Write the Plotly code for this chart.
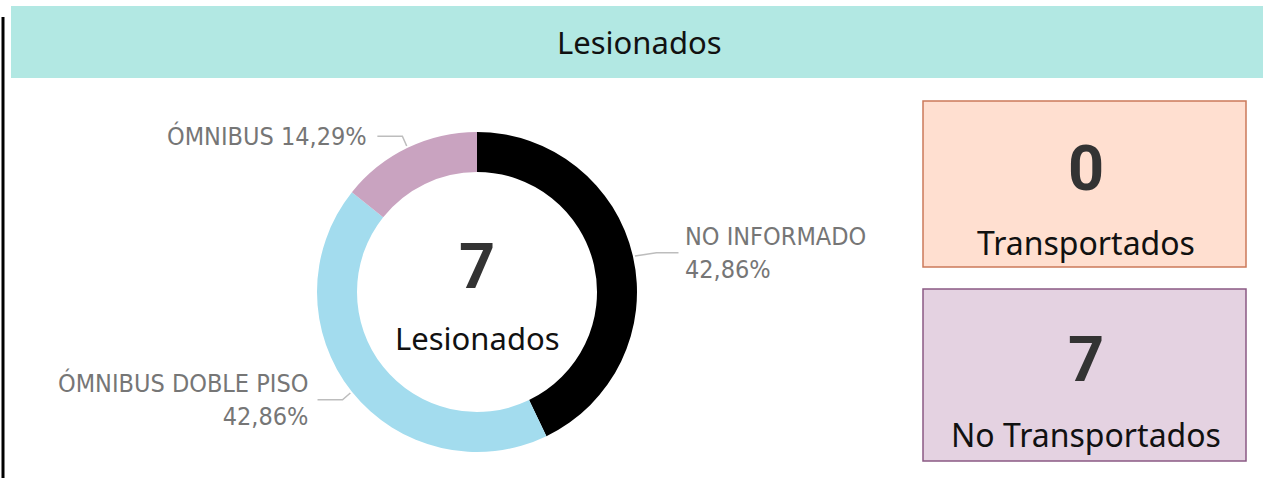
import math
import plotly.graph_objects as go

W, H = 1263, 494

# Data
categories = ["NO INFORMADO", "ÓMNIBUS DOBLE PISO", "ÓMNIBUS"]
injured = [3, 3, 1]
slice_colors = ["#000000", "#A3DCEE", "#C9A3C0"]
card_labels = ["Transportados", "No Transportados"]
card_values = [0, 7]
title_text = "Lesionados"

total = sum(injured)


def px(x):
    return x / W


def py(y):
    return 1 - y / H


# Donut geometry (pixels)
cx, cy, R = 477, 292, 160
LABEL_FONT = "DejaVu Sans Condensed, Roboto, sans-serif"
NUM_FONT = "Roboto, DejaVu Sans Condensed, sans-serif"
UI_FONT = "Segoe UI, Noto Sans, Open Sans, sans-serif"


def text_at(x, y, text, font, xanchor="center", align="center"):
    return dict(
        x=px(x), y=py(y), xref="paper", yref="paper",
        xanchor=xanchor, yanchor="middle", align=align,
        text=text, showarrow=False, font=font,
    )


fig = go.Figure()
fig.add_trace(go.Pie(
    labels=categories,
    values=injured,
    marker=dict(colors=slice_colors, line=dict(width=0)),
    hole=0.75,
    sort=False,
    direction="clockwise",
    rotation=0,
    textinfo="none",
    hoverinfo="label+value+percent",
    showlegend=False,
    domain=dict(x=[px(cx - R), px(cx + R)], y=[py(cy + R), py(cy - R)]),
))

shapes = []
annotations = []

# Outside labels with elbow leader lines, placed from each slice's mid-angle
label_font = dict(family=LABEL_FONT, size=25, color="#767676")
cum = 0
for name, v in zip(categories, injured):
    mid = (cum + v / 2) / total * 2 * math.pi
    cum += v
    sx, sy = math.sin(mid), -math.cos(mid)
    x0, y0 = cx + (R + 2) * sx, cy + (R + 2) * sy
    pct = f"{v / total * 100:.2f}".replace(".", ",") + "%"
    if sx >= 0:
        ex, ey = x0 + 18 * sx + 4, y0 + 14 * sy
        hx = ex + 22
        tx = hx + 5
        anchor = "left"
        text = f"{name}<br>{pct}"
    else:
        ex, ey = x0 + 10 * sx, y0 + 11 * sy
        hx = ex - 25
        tx = hx - 8
        anchor = "right"
        text = f"{name} {pct}" if v / total < 0.2 else f"{name}<br>{pct}"
    shapes.append(dict(
        type="path", xref="paper", yref="paper",
        path=f"M {px(x0)} {py(y0)} L {px(ex)} {py(ey)} L {px(hx)} {py(ey)}",
        line=dict(color="#BDBDBD", width=1.5),
    ))
    annotations.append(text_at(tx, ey, text, label_font, xanchor=anchor, align=anchor))

num_font = dict(family=NUM_FONT, size=63, color="#333333", weight=700)
ui_font = dict(family=UI_FONT, size=31, color="#111111")
card_font = dict(family=UI_FONT, size=32, color="#111111")

# Centre total
annotations.append(text_at(cx, 266, str(total), num_font))
annotations.append(text_at(cx, 338, title_text, ui_font))

# Title bar and left rule
shapes.append(dict(type="rect", xref="paper", yref="paper",
                   x0=px(11), x1=px(1263), y0=py(78), y1=py(6),
                   fillcolor="#B2E8E3", line=dict(width=0), layer="below"))
shapes.append(dict(type="line", xref="paper", yref="paper",
                   x0=px(3), x1=px(3), y0=py(478), y1=py(17),
                   line=dict(color="#000000", width=3)))
annotations.append(text_at(640, 42, title_text, dict(family=UI_FONT, size=31, color="#111111")))

# KPI cards
cards = [
    dict(y0=101, y1=267, fill="#FFDFD0", border="#CB7A5A", vy=168, ly=242),
    dict(y0=289, y1=461, fill="#E4D2E1", border="#8A5A84", vy=359, ly=434),
]
for c, lab, val in zip(cards, card_labels, card_values):
    shapes.append(dict(type="rect", xref="paper", yref="paper",
                       x0=px(923), x1=px(1246), y0=py(c["y1"]), y1=py(c["y0"]),
                       fillcolor=c["fill"], line=dict(color=c["border"], width=1.5),
                       layer="below"))
    annotations.append(text_at(1086, c["vy"], str(val), num_font))
    annotations.append(text_at(1086, c["ly"], lab, card_font))

fig.update_layout(
    width=W, height=H,
    margin=dict(l=0, r=0, t=0, b=0),
    paper_bgcolor="#FFFFFF",
    plot_bgcolor="#FFFFFF",
    shapes=shapes,
    annotations=annotations,
)

fig.write_html("out.html", config={"displayModeBar": False})
